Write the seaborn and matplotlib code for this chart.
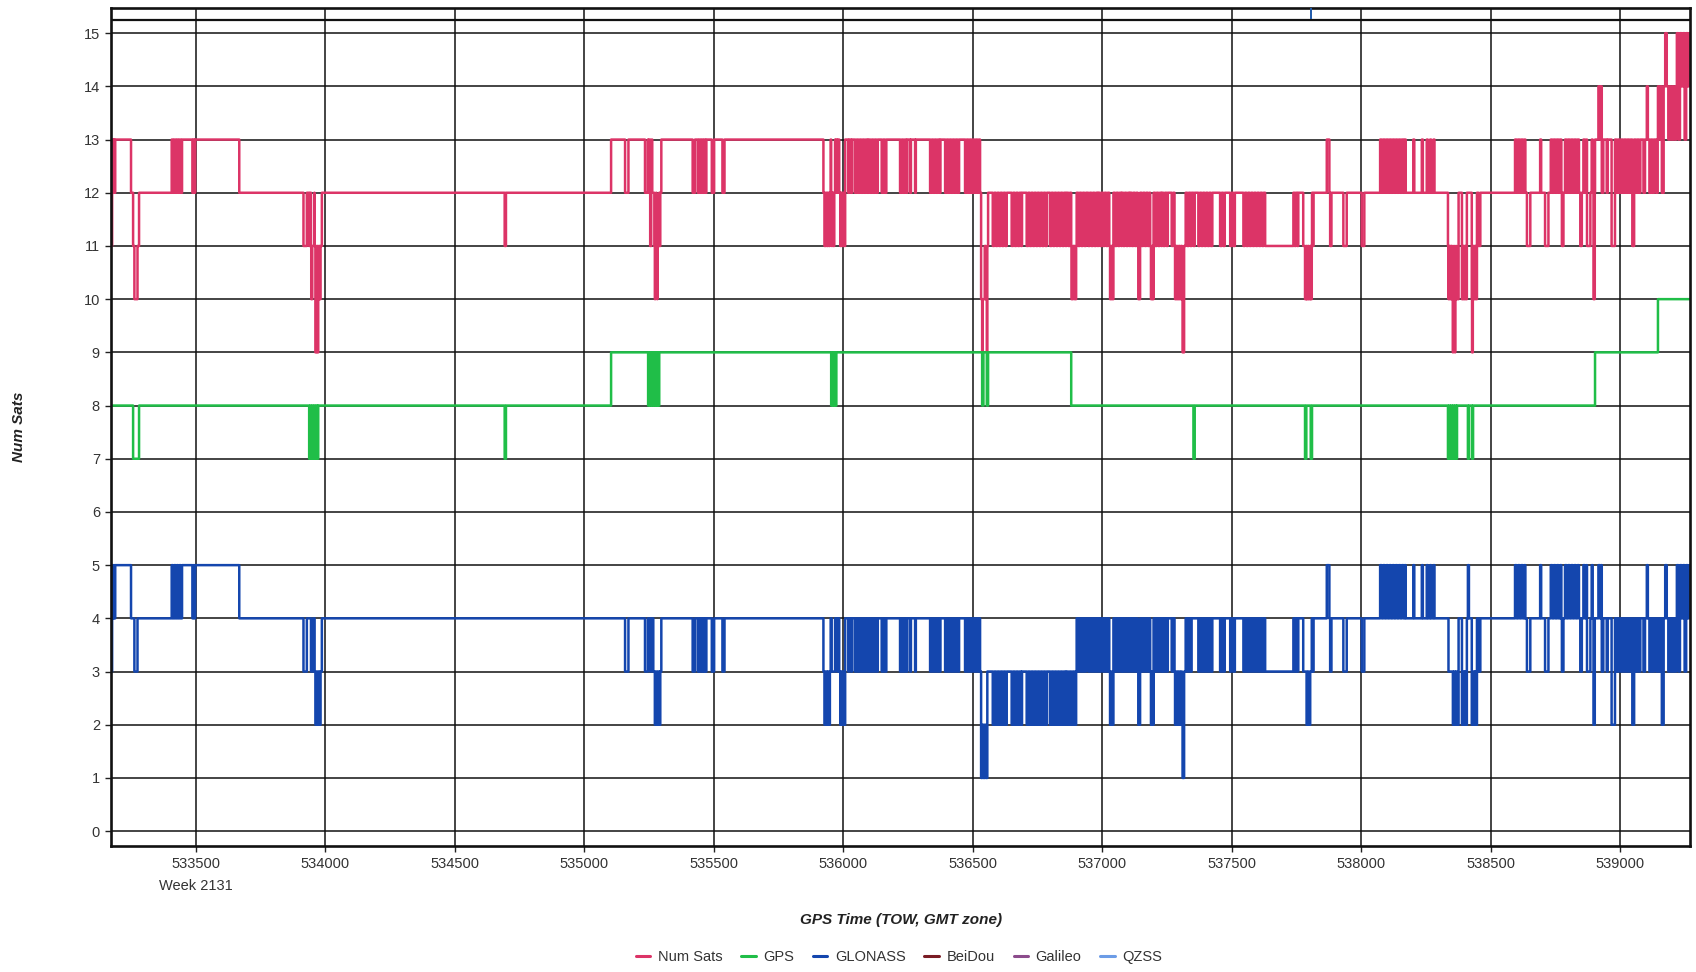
import numpy as np
import pandas as pd
import matplotlib
matplotlib.use("Agg")
import matplotlib.pyplot as plt
import matplotlib.transforms as mtransforms
from matplotlib.lines import Line2D
import seaborn as sns

# ---------------------------------------------------------------- data
# GPS time of week (s) range of the session, week 2131
TOW_START = 533172
TOW_END = 539270
WEEK_LABEL = "Week 2131"
X_TICKS = [533500, 534000, 534500, 535000, 535500, 536000,
           536500, 537000, 537500, 538000, 538500, 539000]
Y_TICKS = list(range(0, 16))

SYSTEMS = ["Num Sats", "GPS", "GLONASS", "BeiDou", "Galileo", "QZSS"]
SYSTEM_COLORS = ["#DC3467", "#20BE48", "#1446AE", "#7A1C24", "#8C4C8C", "#6C9CE6"]

# satellites tracked per constellation: (time of change, new count)
gps_changes = [
    (533172, 8), (533257, 7), (533280, 8),
    (533937, 7), (533941, 8), (533945, 7), (533949, 8), (533953, 7),
    (533957, 8), (533961, 7), (533965, 8), (533969, 7), (533972, 8),
    (534692, 7), (534697, 8),
    (535103, 9),
    (535246, 8), (535250, 9), (535254, 8), (535258, 9), (535262, 8),
    (535266, 9), (535270, 8), (535274, 9), (535278, 8), (535282, 9),
    (535286, 8), (535289, 9),
    (535953, 8), (535957, 9), (535961, 8), (535965, 9), (535969, 8),
    (535973, 9),
    (536536, 8), (536541, 9), (536554, 8), (536559, 9),
    (536880, 8),
    (537352, 7), (537357, 8),
    (537783, 7), (537788, 8), (537805, 7), (537810, 8),
    (538335, 7), (538339, 8), (538343, 7), (538347, 8), (538351, 7),
    (538355, 8), (538359, 7), (538363, 8), (538367, 7), (538370, 8),
    (538412, 7), (538416, 8), (538428, 7), (538432, 8),
    (538903, 9),
    (539146, 10),
]

glonass_changes = [
    (533172, 3), (533176, 5), (533179, 4), (533182, 5), (533185, 4), (533188, 5),
    (533249, 4), (533262, 3), (533274, 4),
    (533406, 5), (533411, 4), (533416, 5), (533421, 4), (533426, 5),
    (533431, 4), (533436, 5), (533441, 4), (533446, 5),
    (533486, 4), (533490, 5), (533494, 4), (533497, 5),
    (533667, 4),
    (533915, 3), (533928, 4), (533944, 3), (533953, 4), (533958, 3),
    (533961, 2), (533966, 3), (533969, 2), (533974, 3), (533977, 2),
    (533981, 3), (533986, 4),
    (535157, 3), (535170, 4),
    (535234, 3), (535245, 4), (535254, 3), (535260, 4), (535266, 3),
    (535272, 2), (535277, 3), (535281, 2), (535286, 3), (535290, 2),
    (535293, 3), (535297, 4),
    (535418, 3), (535427, 4), (535438, 3), (535443, 4), (535448, 3),
    (535453, 4), (535458, 3), (535463, 4), (535467, 3), (535471, 4),
    (535492, 3), (535501, 4), (535533, 3), (535541, 4),
    (535923, 3), (535927, 2), (535932, 3), (535936, 2), (535940, 3),
    (535944, 2), (535948, 3), (535951, 4),
    (535955, 3), (535968, 4),
    (535976, 3), (535980, 4), (535984, 3), (535988, 2), (535992, 3),
    (535996, 2), (536000, 3), (536004, 2), (536007, 4),
    (536019, 3), (536023, 4), (536030, 3), (536034, 4),
    (536045, 3), (536051, 4), (536057, 3), (536063, 4), (536069, 3),
    (536075, 4), (536081, 3), (536087, 4), (536093, 3), (536097, 4),
    (536103, 3), (536109, 4), (536115, 3), (536121, 4), (536127, 3), (536133, 4),
    (536148, 3), (536154, 4), (536160, 3), (536166, 4),
    (536219, 3), (536225, 4), (536231, 3), (536237, 4), (536243, 3), (536247, 4),
    (536258, 3), (536261, 4), (536277, 3), (536280, 4),
    (536335, 3), (536341, 4), (536347, 3), (536353, 4), (536359, 3),
    (536365, 4), (536371, 3), (536375, 4),
    (536393, 3), (536399, 4), (536405, 3), (536411, 4), (536417, 3),
    (536423, 4), (536429, 3), (536435, 4), (536441, 3), (536447, 4),
    (536470, 3), (536476, 4), (536482, 3), (536488, 4), (536494, 3),
    (536500, 4), (536506, 3), (536512, 4), (536518, 3), (536524, 4),
    (536528, 3),
    (536532, 1), (536537, 2), (536541, 1), (536546, 2), (536550, 1), (536556, 3),
    (536577, 2), (536583, 3), (536589, 2), (536595, 3), (536601, 2),
    (536607, 3), (536613, 2), (536619, 3), (536625, 2), (536631, 3),
    (536650, 2), (536656, 3), (536662, 2), (536668, 3), (536674, 2),
    (536680, 3), (536686, 2), (536690, 3),
    (536708, 2), (536714, 3), (536720, 2), (536726, 3), (536732, 2),
    (536738, 3), (536744, 2), (536750, 3), (536756, 2), (536762, 3),
    (536768, 2), (536774, 3), (536780, 2), (536786, 3),
    (536798, 2), (536804, 3), (536810, 2), (536816, 3), (536822, 2),
    (536828, 3), (536834, 2), (536840, 3), (536846, 2), (536852, 3),
    (536858, 2), (536862, 3),
    (536869, 2), (536875, 3), (536881, 2), (536887, 3), (536893, 2), (536899, 3),
    (536901, 4), (536907, 3), (536913, 4), (536919, 3), (536925, 4),
    (536931, 3), (536937, 4),
    (536946, 3), (536952, 4), (536958, 3), (536964, 4), (536970, 3),
    (536976, 4), (536982, 3), (536985, 4),
    (536991, 3), (536997, 4), (537003, 3), (537009, 4), (537015, 3),
    (537021, 4), (537027, 3),
    (537030, 2), (537035, 3), (537039, 2), (537043, 4),
    (537049, 3), (537055, 4), (537061, 3), (537067, 4), (537073, 3), (537076, 4),
    (537081, 3), (537087, 4), (537093, 3), (537099, 4), (537105, 3), (537108, 4),
    (537114, 3), (537120, 4), (537126, 3), (537132, 4), (537137, 3),
    (537139, 2), (537146, 4),
    (537152, 3), (537158, 4), (537164, 3), (537170, 4), (537176, 3), (537182, 4),
    (537185, 3), (537188, 2), (537193, 3), (537196, 2), (537198, 4),
    (537204, 3), (537210, 4), (537216, 3), (537222, 4), (537228, 3), (537231, 4),
    (537236, 3), (537242, 4), (537248, 3), (537253, 4),
    (537268, 3), (537274, 4), (537279, 3),
    (537281, 2), (537286, 3), (537290, 2), (537295, 3), (537299, 2),
    (537304, 3), (537308, 2), (537310, 1), (537316, 3),
    (537322, 4), (537328, 3), (537334, 4), (537340, 3), (537345, 4),
    (537371, 3), (537377, 4), (537383, 3), (537389, 4), (537395, 3),
    (537401, 4), (537407, 3), (537413, 4), (537419, 3), (537425, 4),
    (537455, 3), (537461, 4), (537467, 3), (537473, 4),
    (537494, 3), (537500, 4), (537506, 3), (537512, 4),
    (537545, 3), (537551, 4), (537557, 3), (537563, 4), (537569, 3),
    (537575, 4), (537581, 3), (537587, 4), (537593, 3), (537599, 4),
    (537605, 3), (537611, 4), (537617, 3), (537623, 4), (537629, 3),
    (537738, 4), (537743, 3), (537748, 4), (537753, 3), (537757, 4),
    (537776, 3), (537789, 2), (537794, 3), (537797, 2), (537803, 3),
    (537809, 4),
    (537812, 3), (537816, 4),
    (537867, 5), (537877, 4), (537880, 3), (537885, 4),
    (537931, 3), (537944, 4),
    (538002, 3), (538012, 4),
    (538073, 5), (538079, 4), (538085, 5), (538091, 4), (538097, 5),
    (538103, 4), (538109, 5), (538115, 4), (538121, 5), (538127, 4),
    (538133, 5), (538139, 4), (538145, 5), (538151, 4), (538157, 5),
    (538163, 4), (538168, 5), (538172, 4),
    (538201, 5), (538205, 4), (538234, 5), (538238, 4), (538253, 5),
    (538257, 4), (538266, 5), (538270, 4), (538279, 5), (538283, 4),
    (538337, 3), (538354, 2), (538358, 3), (538362, 2), (538366, 3),
    (538370, 2), (538376, 4),
    (538389, 2), (538393, 3), (538397, 2), (538401, 3), (538405, 2), (538408, 4),
    (538412, 5), (538416, 4),
    (538427, 2), (538431, 3), (538435, 2), (538439, 3), (538443, 2), (538447, 4),
    (538453, 3), (538460, 4),
    (538594, 5), (538600, 4), (538606, 5), (538612, 4), (538618, 5),
    (538624, 4), (538630, 5), (538634, 4),
    (538640, 3), (538653, 4),
    (538691, 5), (538695, 4),
    (538710, 3), (538723, 4),
    (538732, 5), (538738, 4), (538744, 5), (538750, 4), (538756, 5),
    (538762, 4), (538768, 5), (538773, 4), (538775, 3), (538781, 4),
    (538787, 5), (538793, 4), (538799, 5), (538805, 4), (538811, 5),
    (538817, 4), (538823, 5), (538829, 4), (538835, 5), (538841, 4),
    (538846, 3), (538852, 4), (538858, 5), (538864, 4), (538870, 5),
    (538872, 3), (538885, 4), (538890, 5), (538894, 4), (538897, 2),
    (538902, 4), (538916, 5), (538922, 4), (538926, 5), (538929, 3), (538935, 4),
    (538948, 3), (538952, 4),
    (538967, 2), (538980, 4),
    (538986, 3), (538992, 4), (538998, 3), (539004, 4), (539010, 3),
    (539016, 4), (539022, 3), (539028, 4), (539034, 3), (539040, 4),
    (539047, 2), (539054, 4), (539060, 3), (539066, 4), (539072, 3), (539078, 4),
    (539090, 3), (539096, 4), (539103, 5), (539107, 4), (539113, 3),
    (539119, 4), (539125, 3), (539131, 4),
    (539139, 3), (539145, 4), (539151, 3), (539157, 4), (539161, 2),
    (539168, 4), (539174, 5), (539180, 4), (539186, 3), (539192, 4),
    (539198, 3), (539204, 4), (539210, 3), (539216, 4), (539219, 5),
    (539225, 3), (539231, 5), (539237, 4), (539243, 5), (539249, 3),
    (539255, 5), (539261, 4), (539266, 5),
]

# event flag shown in the strip above the plot area
EVENT_TOW = 537806


# ---------------------------------------------------------------- helpers
def sample_steps(changes, times):
    """Value of a step series (changes sorted by time) at each given time."""
    changes = sorted(changes)
    t = np.array([c[0] for c in changes])
    v = np.array([c[1] for c in changes])
    idx = np.searchsorted(t, times, side="right") - 1
    return v[np.clip(idx, 0, None)]


timeline = np.unique(np.concatenate([
    [c[0] for c in gps_changes],
    [c[0] for c in glonass_changes],
    [TOW_END],
]))
gps = sample_steps(gps_changes, timeline)
glonass = sample_steps(glonass_changes, timeline)
total = gps + glonass

frames = []
for name, vals in [("Num Sats", total), ("GPS", gps), ("GLONASS", glonass)]:
    frames.append(pd.DataFrame({"tow": timeline, "sats": vals, "system": name}))
df = pd.concat(frames, ignore_index=True)

palette = dict(zip(SYSTEMS, SYSTEM_COLORS))

# ---------------------------------------------------------------- figure
sns.set_theme(style="white")
plt.rcParams["font.family"] = ["Liberation Sans", "DejaVu Sans"]

fig = plt.figure(figsize=(16.96, 9.72), dpi=100)
ax = fig.add_axes([0.0655, 0.1296, 0.931, 0.862])

# grid first so the traces sit on top
ax.set_axisbelow(True)
ax.grid(True, which="major", color="#111111", linewidth=1.1)

sns.lineplot(
    data=df, x="tow", y="sats", hue="system",
    hue_order=["Num Sats", "GPS", "GLONASS"], palette=palette,
    drawstyle="steps-post", estimator=None, sort=False,
    linewidth=1.8, legend=False, ax=ax,
)

ax.set_xlim(TOW_START, TOW_END)
ax.set_ylim(-0.28, 15.47)
ax.set_xticks(X_TICKS)
ax.set_xticklabels([str(t) for t in X_TICKS])
ax.set_yticks(Y_TICKS)
ax.set_yticklabels([str(v) for v in Y_TICKS])

# band separator near the top and the event flag inside it
ax.axhline(15.25, color="#111111", linewidth=1.6, zorder=3)
ax.vlines([EVENT_TOW], 15.27, 15.47, color="#1F5AAA", linewidth=1.4, zorder=3)

for side in ["left", "right", "top", "bottom"]:
    ax.spines[side].set_visible(True)
    ax.spines[side].set_color("#111111")
    ax.spines[side].set_linewidth(1.9)

ax.tick_params(axis="both", which="major", direction="out", length=4,
               width=1.0, color="#222222", pad=4,
               labelsize=10.5, labelcolor="#333333",
               bottom=True, left=True)

# week annotation below the first tick label
trans = mtransforms.blended_transform_factory(ax.transData, ax.transAxes)
ax.text(X_TICKS[0], -0.048, WEEK_LABEL, transform=trans, ha="center",
        va="center", fontsize=10.5, color="#333333")

ax.set_xlabel("GPS Time (TOW, GMT zone)", fontsize=11, fontweight="bold",
              fontstyle="italic", color="#222222")
ax.xaxis.set_label_coords(0.5, -0.080)
ax.set_ylabel("Num Sats", fontsize=11, fontweight="bold",
              fontstyle="italic", color="#222222")
ax.yaxis.set_label_coords(-0.054, 0.5)

handles = [Line2D([], [], color=palette[s], linewidth=2.2) for s in SYSTEMS]
fig.legend(handles, SYSTEMS, loc="center", bbox_to_anchor=(0.53, 0.0155),
           ncol=6, frameon=False, fontsize=10.5, handlelength=1.0,
           handletextpad=0.5, columnspacing=1.3, labelcolor="#333333")

fig.savefig("out.png", dpi=100, facecolor="white")
